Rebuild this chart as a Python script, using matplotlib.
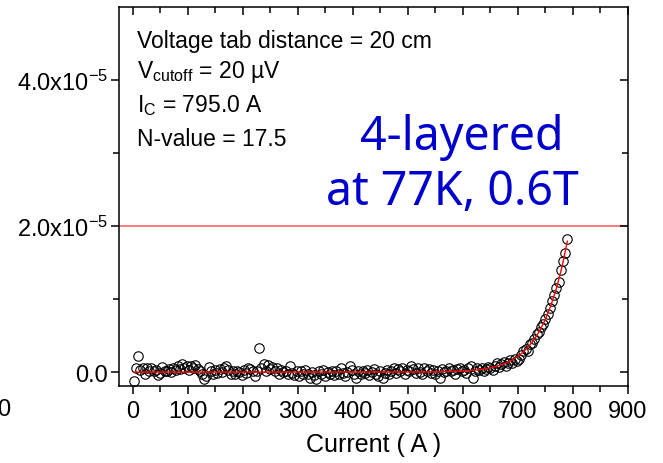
import numpy as np
import matplotlib
matplotlib.use('Agg')
import matplotlib.pyplot as plt
from matplotlib.ticker import MultipleLocator, FixedLocator

plt.rcParams['font.family'] = ['Liberation Sans', 'DejaVu Sans']
plt.rcParams['mathtext.fontset'] = 'custom'
plt.rcParams['mathtext.rm'] = 'Liberation Sans'
plt.rcParams['mathtext.it'] = 'Liberation Sans:italic'

# measured voltage (uV), every 4 A from 2 A
volt_uv = [
    -1.2, 0.5, 2.2, 0.3, 0.6, -0.2, 0.5, 0.2, 0.6, 0.1, 0.3, -0.4, -0.1, 0.7, 0.2, 0.1,
    0.4, 0.0, 0.5, 0.3, 0.8, 0.4, 1.1, 0.6, 0.9, 0.3, 0.8, 0.5, 1.0, 0.4, 0.2, -0.3,
    -0.9, -0.5, 0.7, 0.1, -0.2, 0.3, -0.1, 0.4, 0.0, 0.6, 0.9, 0.3, -0.2, 0.1, -0.3, 0.2,
    0.0, -0.4, 0.3, -0.1, 0.6, 0.4, 0.1, -0.5, 0.2, 3.3, 0.5, 1.1, 0.2, 1.0, 0.4, 0.7,
    0.1, 0.5, -0.2, 0.3, 0.0, 0.2, -0.3, 0.8, -0.1, -0.4, 0.2, -0.6, 0.1, -0.3, 0.3, -0.2,
    -0.8, 0.0, -0.4, -0.9, 0.1, -0.3, 0.3, -0.5, 0.0, -0.2, 0.2, -0.4, 0.1, -0.3, 0.5, -0.1,
    -0.5, 0.0, 0.8, 0.3, -0.2, -0.8, 0.1, -0.3, 0.2, -0.1, 0.3, -0.4, 0.0, 0.4, -0.2, -0.5,
    0.2, -0.8, -0.1, 0.3, -0.3, 0.2, 0.5, -0.1, 0.4, 0.1, 0.6, -0.2, 0.3, 0.1, 0.9, 0.4,
    -0.1, 0.5, 0.0, -0.3, 0.6, 0.2, 0.4, -0.1, 0.3, -0.2, 0.1, -0.8, 0.4, 0.0, 0.2, 0.5,
    0.1, 0.3, -0.2, 0.4, 0.6, 0.1, 0.3, -0.1, 0.5, 0.8, -0.8, 0.2, 0.5, 0.3, 0.6, 0.2,
    0.4, 0.7, 0.5, 0.3, 0.9, 1.2, 0.7, 1.1, 1.4, 0.9, 1.3, 1.6, 1.2, 1.8, 1.5, 1.8,
    2.3, 2.9, 3.2, 2.9, 3.8, 4.0, 4.5, 5.2, 5.5, 6.2, 6.6, 7.3, 8.0, 8.8, 9.8, 10.5,
    11.5, 12.4, 14.0, 15.2, 16.3, 18.2,
]
current = np.arange(len(volt_uv)) * 4 + 2

# fitted curve (A, uV)
fit_current = [2, 300, 500, 550, 600, 610, 620, 630, 640, 650, 660, 670, 680, 690, 700,
               710, 720, 730, 740, 750, 760, 770, 780, 790]
fit_uv = [0.0, 0.0, 0.01, 0.03, 0.15, 0.19, 0.26, 0.34, 0.45, 0.59, 0.77, 1.00, 1.30, 1.68,
          2.16, 2.76, 3.53, 4.50, 5.70, 7.21, 9.10, 11.43, 14.33, 17.91]

v_cutoff = 2.0e-5
y_ticks = [0.0, 2.0e-5, 4.0e-5]
y_ticklabels = ['0.0', r'2.0x10$^{-5}$', r'4.0x10$^{-5}$']

fig = plt.figure(figsize=(6.63, 4.64), dpi=100)
ax = fig.add_axes([0.1795, 0.166, 0.7675, 0.817])

ax.axhline(v_cutoff, color='#ff7070', lw=1.3, zorder=1)
ax.plot(current, np.array(volt_uv) * 1e-6, 'o', mfc='none', mec='black', ms=6.8, mew=0.8, zorder=2)
ax.plot(fit_current, np.array(fit_uv) * 1e-6, '-', color='red', lw=1.0, zorder=3)

ax.set_xlim(-25, 900)
ax.set_ylim(-1.9e-6, 5.0e-5)
ax.xaxis.set_major_locator(MultipleLocator(100))
ax.xaxis.set_minor_locator(MultipleLocator(50))
ax.yaxis.set_major_locator(FixedLocator(y_ticks))
ax.yaxis.set_minor_locator(FixedLocator([1e-5, 3e-5]))
ax.set_yticklabels(y_ticklabels)

for s in ax.spines.values():
    s.set_linewidth(1.1)

ax.tick_params(which='both', labelsize=17, width=1.1, top=True, right=True)
ax.tick_params(which='major', length=6)
ax.tick_params(which='minor', length=4)
ax.tick_params(axis='x', which='both', direction='out', pad=4)
ax.tick_params(axis='y', which='both', direction='out', pad=2)
# top and right ticks point inward
for t in ax.xaxis.get_major_ticks() + ax.xaxis.get_minor_ticks():
    t.tick2line.set_marker(matplotlib.lines.TICKDOWN)
for t in ax.yaxis.get_major_ticks() + ax.yaxis.get_minor_ticks():
    t.tick2line.set_marker(matplotlib.lines.TICKLEFT)

ax.set_xlabel('Current ( A )', fontsize=18, labelpad=7)

tx = 0.035
fs = 16.5
ax.text(tx, 0.894, 'Voltage tab distance = 20 cm', transform=ax.transAxes, fontsize=fs, va='baseline')
ax.text(tx, 0.815, 'V$_{\\mathrm{cutoff}}$ = 20 \u00b5V', transform=ax.transAxes, fontsize=fs, va='baseline')
ax.text(tx, 0.726, r'I$_{\mathrm{C}}$ = 795.0 A', transform=ax.transAxes, fontsize=fs, va='baseline')
ax.text(tx, 0.636, 'N-value = 17.5', transform=ax.transAxes, fontsize=fs, va='baseline')

blue = dict(transform=ax.transAxes, ha='center', va='baseline', fontsize=33.5,
            color='#0000cc', family=['Noto Sans', 'DejaVu Sans'])
ax.text(0.674, 0.625, '4-layered', **blue)
ax.text(0.656, 0.480, 'at 77K, 0.6T', **blue)

fig.text(4 / 663, 1 - 410 / 464, '0', fontsize=17, ha='center', va='center')

fig.savefig('out.png', dpi=100)
